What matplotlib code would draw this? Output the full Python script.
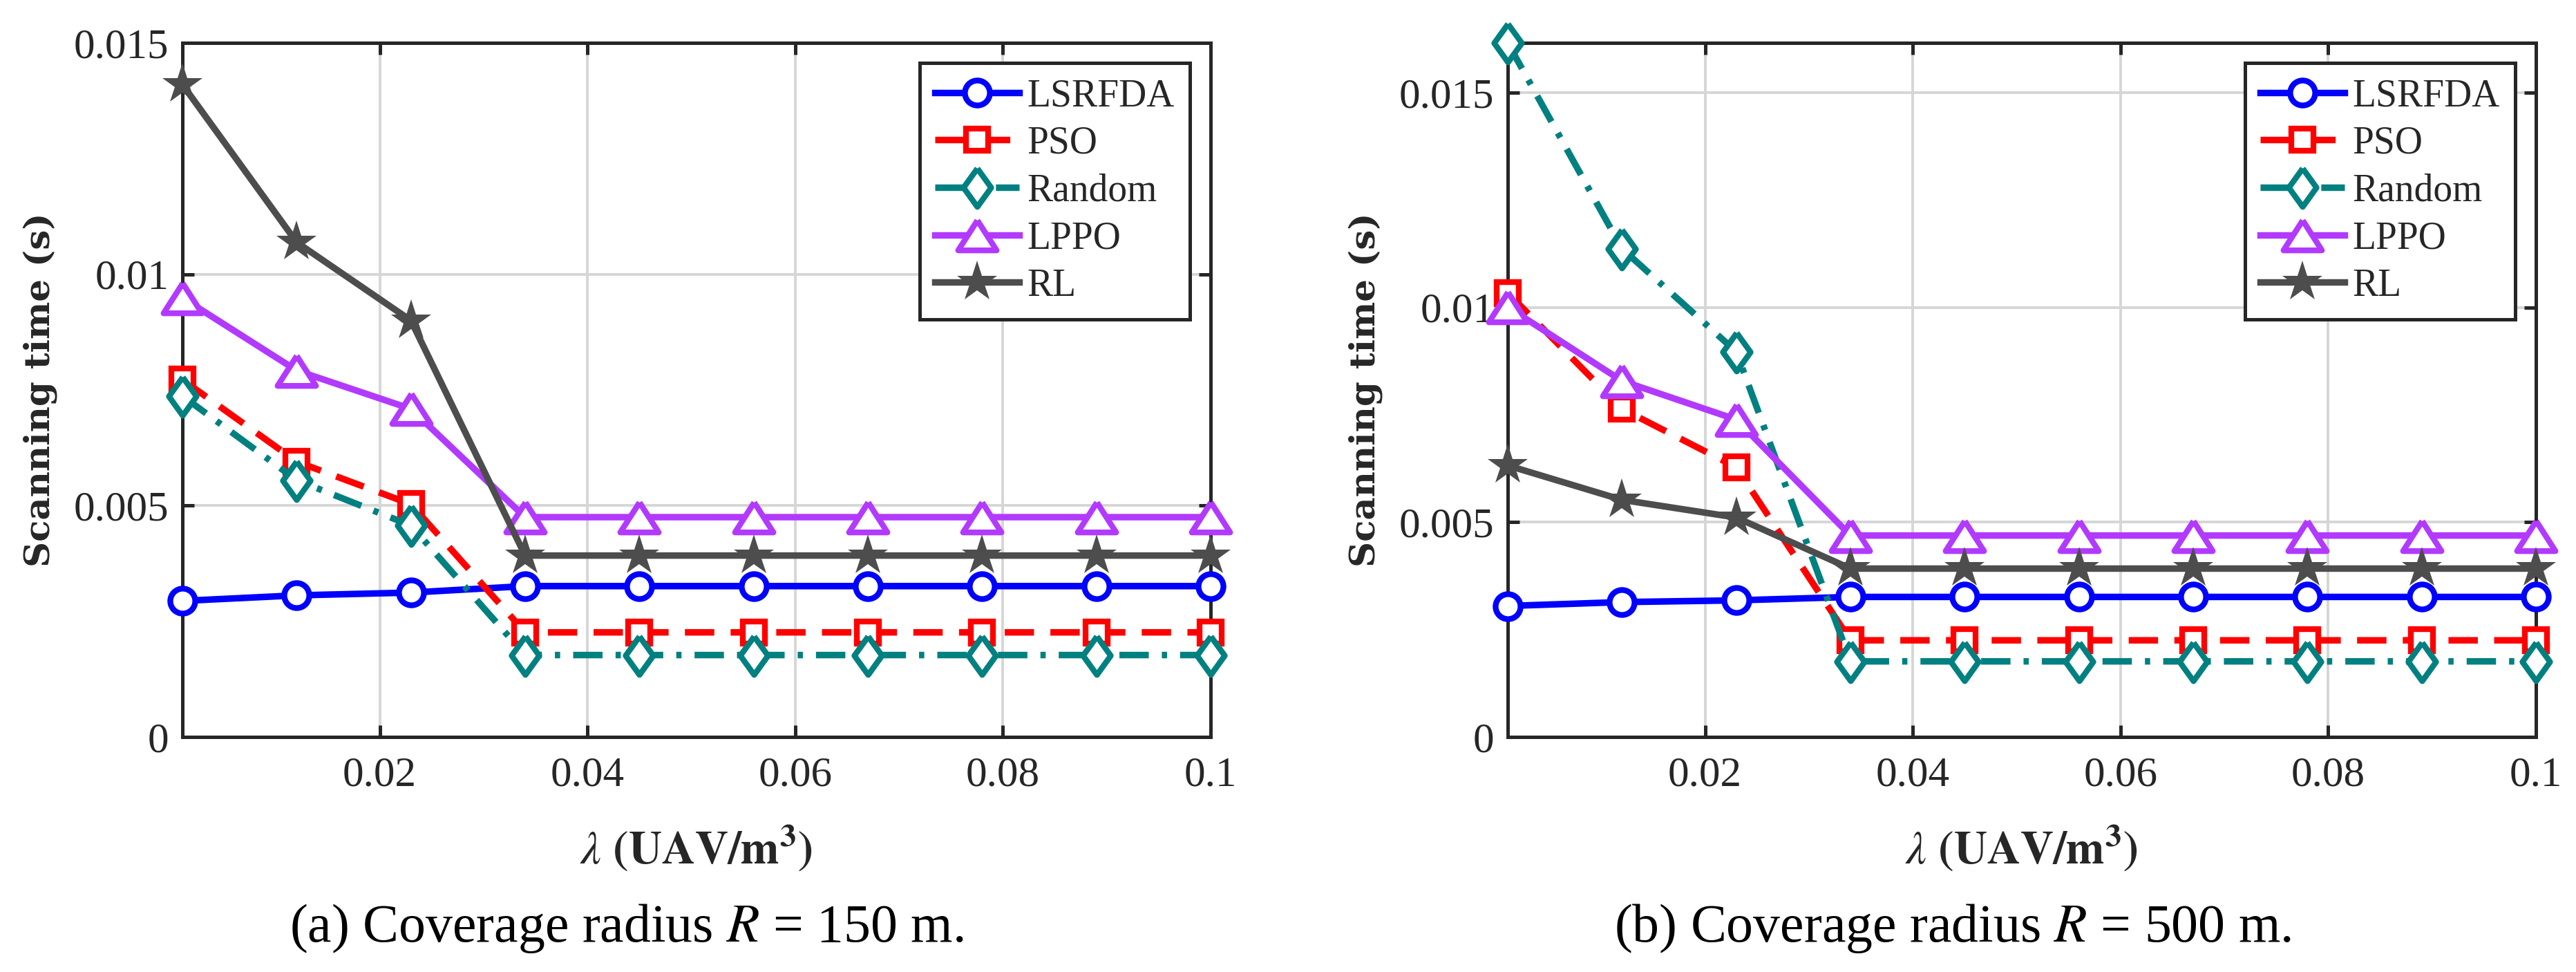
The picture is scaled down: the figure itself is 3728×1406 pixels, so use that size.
import numpy as np
import matplotlib
matplotlib.use("Agg")
import matplotlib.pyplot as plt
from matplotlib import ticker

plt.rcParams['font.family'] = ['Liberation Serif', 'DejaVu Serif']
plt.rcParams['mathtext.fontset'] = 'stix'

# lambda (UAV/m^3)
lam = [0.001, 0.012, 0.023, 0.034, 0.045, 0.056, 0.067, 0.078, 0.089, 0.1]

names = ['LSRFDA', 'PSO', 'Random', 'LPPO', 'RL']

# (a) R = 150 m
lsrfda_150 = [0.00294, 0.00306, 0.00312, 0.00326, 0.00326, 0.00326, 0.00326, 0.00326, 0.00326, 0.00326]
pso_150    = [0.00772, 0.00595, 0.00503, 0.00226, 0.00226, 0.00226, 0.00226, 0.00226, 0.00226, 0.00226]
random_150 = [0.00737, 0.00555, 0.00457, 0.00177, 0.00177, 0.00177, 0.00177, 0.00177, 0.00177, 0.00177]
lppo_150   = [0.00949, 0.00792, 0.00709, 0.00475, 0.00475, 0.00475, 0.00475, 0.00475, 0.00475, 0.00475]
rl_150     = [0.0141, 0.01069, 0.0090, 0.00392, 0.00392, 0.00392, 0.00392, 0.00392, 0.00392, 0.00392]

# (b) R = 500 m
lsrfda_500 = [0.00305, 0.00314, 0.00318, 0.00326, 0.00326, 0.00326, 0.00326, 0.00326, 0.00326, 0.00326]
pso_500    = [0.01034, 0.00764, 0.00628, 0.00225, 0.00225, 0.00225, 0.00225, 0.00225, 0.00225, 0.00225]
random_500 = [0.01616, 0.01137, 0.00897, 0.00176, 0.00176, 0.00176, 0.00176, 0.00176, 0.00176, 0.00176]
lppo_500   = [0.01001, 0.00829, 0.00739, 0.00469, 0.00469, 0.00469, 0.00469, 0.00469, 0.00469, 0.00469]
rl_500     = [0.00632, 0.00552, 0.00511, 0.00392, 0.00392, 0.00392, 0.00392, 0.00392, 0.00392, 0.00392]

captions = ['(a) Coverage radius $R$ = 150 m.', '(b) Coverage radius $R$ = 500 m.']
y_top = [0.015, max(random_500)]
x_ticks = [0.02, 0.04, 0.06, 0.08, 0.1]
y_ticks = [0, 0.005, 0.01, 0.015]

# marker shapes like matlab
diamond = [(0, 1), (0.72, 0), (0, -1), (-0.72, 0), (0, 1)]
triangle = [(0, 0.78), (1, -0.78), (-1, -0.78), (0, 0.78)]

styles = [
    dict(color='#0000ff', ls='-', marker='o', ms=13),
    dict(color='#ff0000', ls=(0, (4.5, 2.5)), marker='s', ms=11.5),
    dict(color='#008080', ls=(0, (4.5, 2, 0.8, 2)), marker=diamond, ms=20),
    dict(color='#b23aff', ls='-', marker=triangle, ms=20),
    dict(color='#4d4d4d', ls='-', marker='*', ms=22),
]

W, H = 3728, 1406
fig = plt.figure(figsize=(W / 200, H / 200), dpi=200)

ax_left = [264, 2182]
ax_w = 1488
ax_top, ax_bot = 62, 1066
cap_x = [907, 2826]
ink = '#262626'

for p, data in enumerate([[lsrfda_150, pso_150, random_150, lppo_150, rl_150],
                          [lsrfda_500, pso_500, random_500, lppo_500, rl_500]]):
    ax = fig.add_axes([ax_left[p] / W, 1 - ax_bot / H, ax_w / W, (ax_bot - ax_top) / H])
    for name, y, st in zip(names, data, styles):
        filled = st['marker'] == '*'
        ax.plot(lam, y, color=st['color'], linestyle=st['ls'], lw=3.4,
                marker=st['marker'], ms=st['ms'], mew=0 if filled else 3,
                mfc=st['color'] if filled else 'white', mec=st['color'],
                label=name, clip_on=False, zorder=3)

    ax.set_xlim(0.001, 0.1)
    ax.set_ylim(0, y_top[p])
    ax.set_xticks(x_ticks)
    ax.set_yticks(y_ticks)
    fmt = ticker.FuncFormatter(lambda v, pos: '{:g}'.format(round(v, 4)))
    ax.xaxis.set_major_formatter(fmt)
    ax.yaxis.set_major_formatter(fmt)
    ax.tick_params(direction='in', length=6, width=1.8, colors=ink, labelsize=22,
                   top=True, right=True)
    ax.tick_params(axis='x', pad=10)
    ax.tick_params(axis='y', pad=7)
    for s in ax.spines.values():
        s.set_linewidth(1.8)
        s.set_color(ink)
    ax.grid(True, color='#d6d6d6', lw=1.4)
    ax.set_axisbelow(True)

    ax.set_xlabel(r'$\lambda$ $\mathbf{(UAV/m^{3})}$', fontsize=24, color=ink, va='center')
    ax.xaxis.set_label_coords(0.5, (ax_bot - 1227) / (ax_bot - ax_top))
    ax.set_ylabel('Scanning time (s)', fontsize=18.5, fontweight='bold', color=ink,
                  family='DejaVu Serif', va='center')
    ax.yaxis.set_label_coords(-206 / ax_w, 0.5)

    leg = ax.legend(loc='upper right', bbox_to_anchor=(1 - 30 / ax_w, 1 - 29 / (ax_bot - ax_top)),
                    borderaxespad=0, fontsize=20, fancybox=False, framealpha=1,
                    edgecolor=ink, numpoints=1, handlelength=2.2, handletextpad=0.2,
                    labelspacing=0.3, borderpad=0.4)
    leg.get_frame().set_linewidth(1.8)
    for t in leg.get_texts():
        t.set_color(ink)

    fig.text(cap_x[p] / W, 1 - 1343 / H, captions[p], fontsize=28, ha='center', va='center')

fig.savefig('out.png', dpi=200, facecolor='white')
